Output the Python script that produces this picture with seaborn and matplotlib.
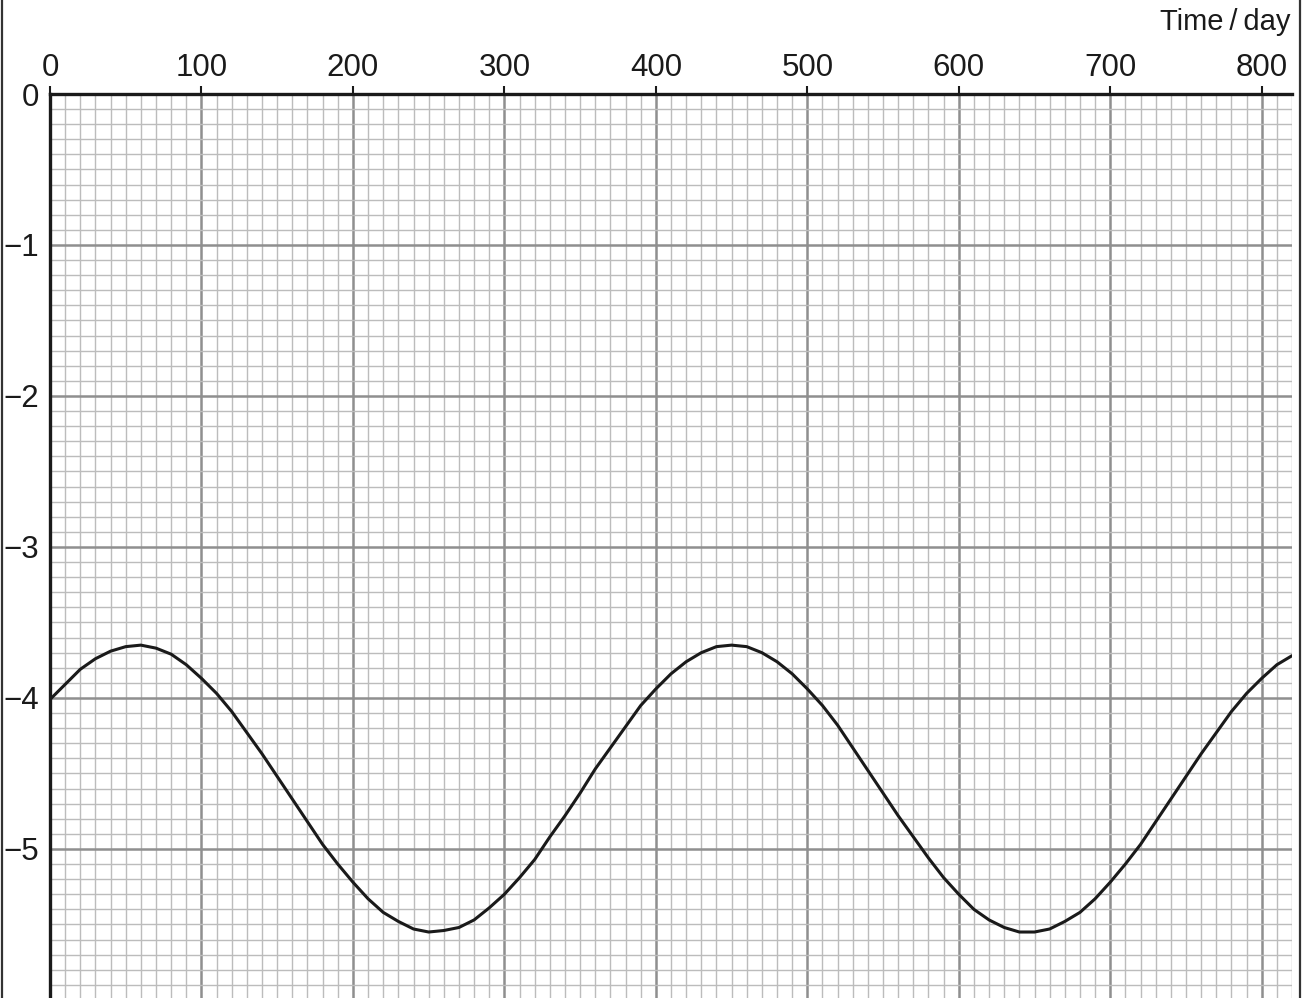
import numpy as np
import pandas as pd
import matplotlib
matplotlib.use('Agg')
import matplotlib.pyplot as plt
from matplotlib.lines import Line2D
import seaborn as sns

# values, one every 10 days
days = list(range(0, 821, 10))
values = [-4.01, -3.91, -3.81, -3.74, -3.69, -3.66, -3.65, -3.67, -3.71, -3.78,
          -3.87, -3.97, -4.09, -4.23, -4.37, -4.52, -4.67, -4.82, -4.97, -5.10,
          -5.22, -5.33, -5.42, -5.48, -5.53, -5.55, -5.54, -5.52, -5.47, -5.39,
          -5.30, -5.19, -5.07, -4.92, -4.78, -4.63, -4.47, -4.33, -4.19, -4.05,
          -3.94, -3.84, -3.76, -3.70, -3.66, -3.65, -3.66, -3.70, -3.76, -3.84,
          -3.94, -4.05, -4.18, -4.33, -4.48, -4.63, -4.78, -4.92, -5.06, -5.19,
          -5.30, -5.40, -5.47, -5.52, -5.55, -5.55, -5.53, -5.48, -5.42, -5.33,
          -5.22, -5.10, -4.97, -4.82, -4.67, -4.52, -4.37, -4.23, -4.09, -3.97,
          -3.87, -3.78, -3.72]

x_major = list(range(0, 801, 100))
y_major = [0, -1, -2, -3, -4, -5]

df = pd.DataFrame({'day': days, 'value': values})

sns.set_style('white')
plt.rcParams['font.family'] = ['Liberation Sans', 'DejaVu Sans']

fig = plt.figure(figsize=(13.06, 9.98), dpi=100)
ax = fig.add_axes([50 / 1306, 0, 1242 / 1306, 904 / 998])

sns.lineplot(data=df, x='day', y='value', color='#1a1a1a', linewidth=2.2,
             ax=ax, zorder=5)

ax.set_xlim(0, 820)
ax.set_ylim(-5.987, 0)

ax.set_xticks(x_major)
ax.set_xticks(np.arange(0, 821, 10), minor=True)
ax.set_yticks(y_major)
ax.set_yticks(np.arange(-5.9, 0.01, 0.1), minor=True)
ax.set_xticklabels([str(v) for v in x_major])
ax.set_yticklabels(['0' if v == 0 else '\u2212' + str(-v) for v in y_major])

ax.set_axisbelow(True)
ax.grid(which='minor', color='#bcbcbc', linewidth=1.0)
ax.grid(which='major', color='#8f8f8f', linewidth=1.8)

ax.xaxis.tick_top()
ax.tick_params(axis='both', which='major', direction='out', length=6, width=1.5,
               color='#1a1a1a', labelsize=22.5, labelcolor='#1a1a1a', pad=2)
ax.tick_params(axis='both', which='minor', length=0)

for side in ['bottom', 'right']:
    ax.spines[side].set_visible(False)
for side in ['top', 'left']:
    ax.spines[side].set_color('#1a1a1a')
    ax.spines[side].set_linewidth(2.4)
    ax.spines[side].set_zorder(6)

ax.set_xlabel('')
ax.set_ylabel('')

fig.text(1290 / 1306, 1 - 22 / 998, 'Time\u2009/\u2009day', ha='right', va='center',
         fontsize=21, color='#1a1a1a')

# page frame lines on both sides
fig.add_artist(Line2D([1.5 / 1306, 1.5 / 1306], [0, 1], color='#333333', linewidth=1.6))
fig.add_artist(Line2D([1299.5 / 1306, 1299.5 / 1306], [0, 1], color='#333333', linewidth=1.6))

fig.savefig('out.png', dpi=100)
